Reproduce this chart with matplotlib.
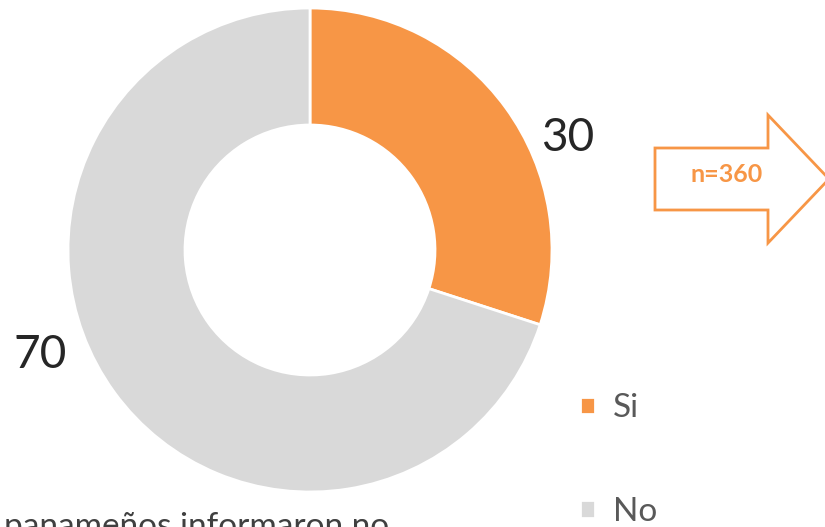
import matplotlib.pyplot as plt
from matplotlib.patches import Polygon

plt.rcParams['font.family'] = ['Lato', 'DejaVu Sans']

# datos
etiquetas = ['Si', 'No']
valores = [30, 70]
colores = ['#F79646', '#D9D9D9']
n_total = 360

fig = plt.figure(figsize=(8.25, 5.27), dpi=100)
ax = fig.add_axes([0, 0, 1, 1])

# dona
cunas, _ = ax.pie(valores, colors=colores, startangle=90, counterclock=False,
                  radius=242, center=(310, 277),
                  wedgeprops=dict(width=117, edgecolor='white', linewidth=2))

ax.set_xlim(0, 825)
ax.set_ylim(0, 527)
ax.set_aspect('equal')
ax.axis('off')

# valores
ax.text(568, 389, str(valores[0]), fontsize=33, color='#262626', ha='center', va='center')
ax.text(40, 172, str(valores[1]), fontsize=33, color='#262626', ha='center', va='center')

# leyenda
ax.legend(cunas, etiquetas, loc='center left', bbox_to_anchor=(0.703, 0.127),
          frameon=False, fontsize=24, labelcolor='#595959',
          handlelength=0.45, handleheight=0.45, handletextpad=0.55,
          labelspacing=2.2, borderpad=0, borderaxespad=0)

# flecha n=360
flecha = Polygon([(655, 379), (768, 379), (768, 412), (829, 348), (768, 284),
                  (768, 317), (655, 317)], closed=True, facecolor='white',
                 edgecolor='#F79646', linewidth=2)
ax.add_patch(flecha)
ax.text(727, 353, 'n=' + str(n_total), fontsize=18, fontweight='bold',
        color='#F79646', ha='center', va='center')

# texto cortado abajo
ax.text(4, -9, 'panameños informaron no', fontsize=24, color='#404040',
        ha='left', va='baseline')
ax.text(-14, 60, 'n', fontsize=18, color='#595959', ha='left', va='baseline')

fig.savefig('out.png', dpi=100)
